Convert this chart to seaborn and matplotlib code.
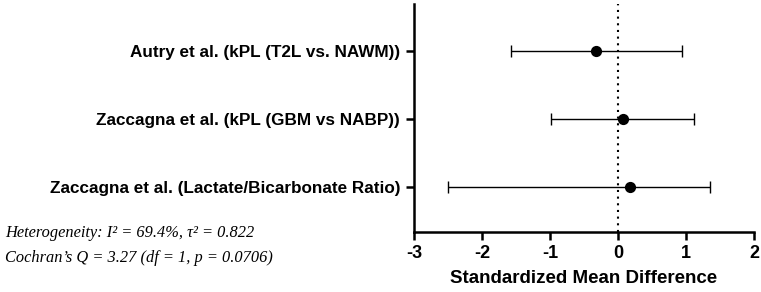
import numpy as np
import pandas as pd
import matplotlib
matplotlib.use("Agg")
import matplotlib.pyplot as plt
import seaborn as sns

studies = [
    "Autry et al. (kPL (T2L vs. NAWM))",
    "Zaccagna et al. (kPL (GBM vs NABP))",
    "Zaccagna et al. (Lactate/Bicarbonate Ratio)",
]
smd = [-0.32, 0.07, 0.17]
ci_low = [-1.58, -0.98, -2.50]
ci_high = [0.94, 1.12, 1.35]
xticks = [-3, -2, -1, 0, 1, 2]
xlabel = "Standardized Mean Difference"
note1 = "Heterogeneity: I\u00b2 = 69.4%, \u03c4\u00b2 = 0.822"
note2 = "Cochran\u2019s Q = 3.27 (df = 1, p = 0.0706)"

sns.set_theme(style="ticks")
plt.rcParams['font.family'] = ['Liberation Sans', 'DejaVu Sans']
plt.rcParams['text.color'] = 'black'
plt.rcParams['axes.labelcolor'] = 'black'
plt.rcParams['xtick.color'] = 'black'
plt.rcParams['ytick.color'] = 'black'
plt.rcParams['axes.edgecolor'] = 'black'

df = pd.DataFrame({"study": studies, "smd": smd, "lo": ci_low, "hi": ci_high})
df["pos"] = np.arange(len(df))

fig = plt.figure(figsize=(7.61, 2.92), dpi=100)
ax = fig.add_axes([414/761, 1 - 232/292, (754-414)/761, (232-4)/292])

ax.errorbar(df["smd"], df["pos"],
            xerr=[df["smd"] - df["lo"], df["hi"] - df["smd"]],
            fmt="none", ecolor="black", elinewidth=1.0, capsize=4, capthick=1.0, zorder=2)
sns.scatterplot(data=df, x="smd", y="pos", color="black", s=65, edgecolor="black",
                linewidth=0, ax=ax, zorder=3, legend=False)
ax.axvline(0, color="black", linestyle=(0, (1, 2.2)), linewidth=1.5, zorder=1)

ax.set_xlim(-3, 2)
ax.set_ylim(2.667, -0.69)
ax.set_xticks(xticks)
ax.set_xticklabels([str(t) for t in xticks], fontweight="bold", fontsize=13)
ax.set_yticks(df["pos"])
ax.set_yticklabels(df["study"], fontweight="bold", fontsize=12.3)
ax.set_xlabel(xlabel, fontweight="bold", fontsize=13.5, labelpad=6)
ax.set_ylabel("")
for s in ["top", "right"]:
    ax.spines[s].set_visible(False)
for s in ["left", "bottom"]:
    ax.spines[s].set_linewidth(1.8)
ax.tick_params(axis="both", width=1.8, length=6, color="black")
ax.tick_params(axis="y", pad=4)
ax.tick_params(axis="x", pad=3)

fig.text(5/761, 1 - 233/292, note1, fontsize=11.8, style="italic",
         family=["Liberation Serif", "DejaVu Serif"], va="center", ha="left")
fig.text(5/761, 1 - 258/292, note2, fontsize=11.8, style="italic",
         family=["Liberation Serif", "DejaVu Serif"], va="center", ha="left")

fig.savefig("out.png", dpi=100)
